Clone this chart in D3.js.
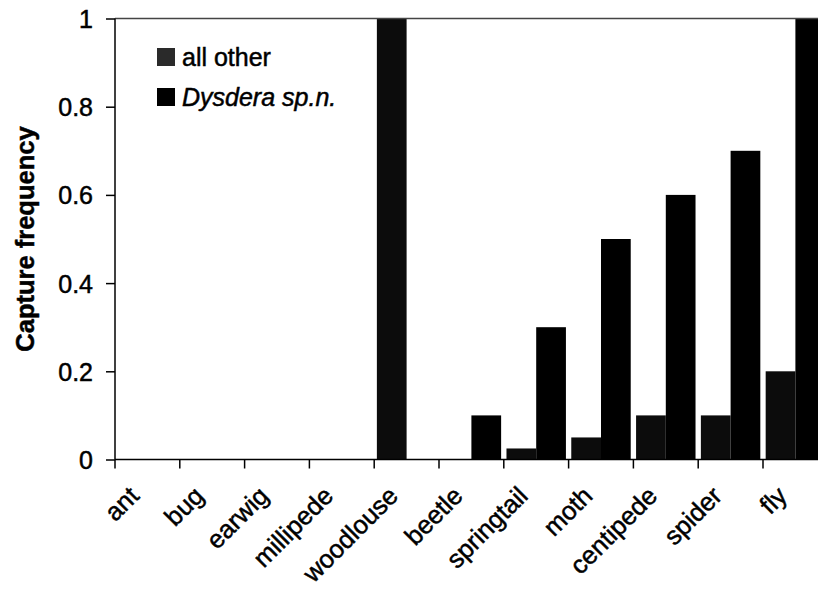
<!DOCTYPE html>
<html>
<head>
<meta charset="utf-8">
<script src="https://cdn.jsdelivr.net/npm/d3@7"></script>
<style>
  body { margin: 0; background: #fff; }
  svg text { font-family: "Liberation Sans", Arial, sans-serif; fill: #000; stroke: #000; stroke-width: 0.5px; }
</style>
</head>
<body>
<svg id="chart" width="818" height="598"></svg>
<script>
const categories = ["ant","bug","earwig","millipede","woodlouse","beetle","springtail","moth","centipede","spider","fly"];
const series = ["all other","Dysdera sp.n."];
const allOther = [0, 0, 0, 0, 1, 0, 0.025, 0.05, 0.1, 0.1, 0.2];
const dysdera  = [0, 0, 0, 0, 0, 0.1, 0.3, 0.5, 0.6, 0.7, 1];
const yTicks = [0, 0.2, 0.4, 0.6, 0.8, 1];

const color = d3.scaleOrdinal().domain(series).range(["#0c0c0c","#000000"]);

const svg = d3.select('#chart');
const plotLeft = 115, plotTop = 18.5, plotBottom = 459.5, step = 64.8;

const x = d3.scaleBand()
    .domain(categories)
    .range([plotLeft, plotLeft + step * categories.length])
    .paddingInner(0).paddingOuter(0);

const xs = d3.scaleBand()
    .domain(series)
    .range([0, x.bandwidth()])
    .paddingInner(0).paddingOuter(0.09);

const y = d3.scaleLinear().domain([0, 1]).range([plotBottom, plotTop]);

const rows = categories.map((c, i) => ({cat: c, values: [allOther[i], dysdera[i]]}));

// bars
const g = svg.append('g');
g.selectAll('.cat')
    .data(rows)
  .enter().append('g')
    .attr('transform', d => `translate(${x(d.cat)},0)`)
    .selectAll('rect')
    .data(d => d.values.map((v, j) => ({s: series[j], v: v})))
  .enter().append('rect')
    .attr('x', d => xs(d.s))
    .attr('width', xs.bandwidth())
    .attr('y', d => y(d.v))
    .attr('height', d => plotBottom - y(d.v))
    .attr('fill', d => color(d.s));

// top frame line
svg.append('line')
    .attr('x1', plotLeft).attr('x2', 818)
    .attr('y1', plotTop).attr('y2', plotTop)
    .attr('stroke', '#444').attr('stroke-width', 1.5);

// y axis
const yAxis = svg.append('g')
    .attr('transform', `translate(${plotLeft},0)`)
    .call(d3.axisLeft(y).tickValues(yTicks).tickFormat(d3.format('')).tickSize(9).tickPadding(13));
yAxis.selectAll('path, line').attr('stroke', '#000').attr('stroke-width', 1.5);
yAxis.select('.domain').attr('d', `M0,${plotTop}V${plotBottom}`);
yAxis.selectAll('text').attr('font-size', 25).attr('dy', '0.36em');

// x axis, ticks at category boundaries
const xAxis = svg.append('g').attr('transform', `translate(0,${plotBottom})`);
xAxis.append('line')
    .attr('x1', plotLeft).attr('x2', 818)
    .attr('stroke', '#000').attr('stroke-width', 1.5);
xAxis.selectAll('.tk')
    .data(categories)
  .enter().append('line')
    .attr('x1', d => x(d)).attr('x2', d => x(d))
    .attr('y1', 0).attr('y2', 9)
    .attr('stroke', '#000').attr('stroke-width', 1.5);
xAxis.selectAll('.lbl')
    .data(categories)
  .enter().append('text')
    .attr('transform', d => `translate(${x(d) + x.bandwidth() / 2 - 7},${38}) rotate(-45)`)
    .attr('text-anchor', 'end')
    .attr('font-size', 25.5)
    .text(d => d);

// y title
svg.append('text')
    .attr('transform', `translate(34,${(plotTop + plotBottom) / 2}) rotate(-90)`)
    .attr('text-anchor', 'middle')
    .attr('font-size', 25.5)
    .attr('font-weight', 'bold')
    .text('Capture frequency');

// legend
const legend = svg.append('g').attr('transform', 'translate(157,48)');
const li = legend.selectAll('g')
    .data(series)
  .enter().append('g')
    .attr('transform', (d, i) => `translate(0,${i * 40})`);
li.append('rect')
    .attr('width', 18).attr('height', 18)
    .attr('fill', (d, i) => i === 0 ? '#2a2a2a' : '#000');
li.append('text')
    .attr('x', 25).attr('y', 18)
    .attr('font-size', 25)
    .attr('font-style', (d, i) => i === 1 ? 'italic' : 'normal')
    .text(d => d);
</script>
</body>
</html>
